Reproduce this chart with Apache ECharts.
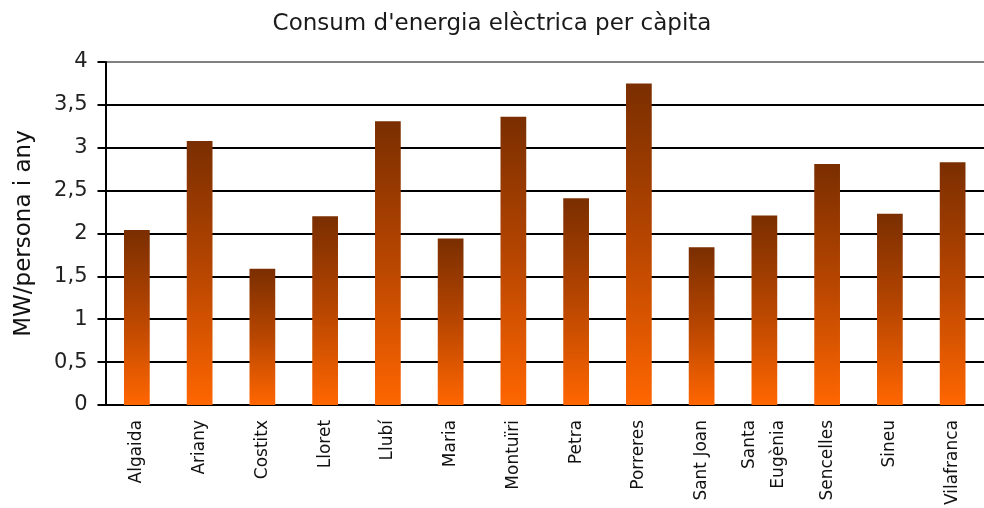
<!DOCTYPE html>
<html><head><meta charset="utf-8">
<script src="https://cdn.jsdelivr.net/npm/echarts@6/dist/echarts.min.js"></script>
<style>html,body{margin:0;padding:0;background:#fff}#c{width:984px;height:508px}</style>
</head><body><div id="c"></div>
<script>
const categories = ['Algaida','Ariany','Costitx','Lloret','Llubí','Maria','Montuïri','Petra','Porreres','Sant Joan','Santa\nEugènia','Sencelles','Sineu','Vilafranca'];
const values = [2.04, 3.08, 1.59, 2.20, 3.31, 1.94, 3.36, 2.41, 3.75, 1.84, 2.21, 2.81, 2.23, 2.83];
const yTicks = [0, 0.5, 1, 1.5, 2, 2.5, 3, 3.5, 4];
const title = "Consum d'energia elèctrica per càpita";
const yName = 'MW/persona i any';

const font = 'DejaVu Sans';
const chart = echarts.init(document.getElementById('c'));
chart.setOption({
  animation: false,
  title: {text: title, left: 'center', top: 8, textStyle: {fontFamily: font, fontSize: 23, fontWeight: 'normal', color: '#1a1a1a'}},
  grid: {left: 105.5, right: -10, top: 62, bottom: 101.5, containLabel: false},
  xAxis: {
    type: 'category', data: categories,
    axisLine: {lineStyle: {color: '#000', width: 2}},
    axisTick: {length: 6, lineStyle: {color: '#000', width: 2}},
    axisLabel: {rotate: 90, margin: 15, fontFamily: font, fontSize: 17, color: '#111', lineHeight: 29, interval: 0}
  },
  yAxis: {
    type: 'value', min: 0, max: 4, interval: 0.5,
    name: yName, nameLocation: 'middle', nameGap: 70, nameRotate: 90,
    nameTextStyle: {fontFamily: font, fontSize: 23, color: '#111'},
    axisLine: {show: true, lineStyle: {color: '#000', width: 2}},
    axisTick: {show: true, length: 8, lineStyle: {color: '#000', width: 2}},
    axisLabel: {margin: 18, fontFamily: font, fontSize: 21, color: '#222',
      formatter: v => String(v).replace('.', ',')},
    splitLine: {lineStyle: {color: ['#000','#000','#000','#000','#000','#000','#000','#000','#808080'], width: 2}}
  },
  series: [{
    type: 'bar', data: values, barCategoryGap: '59%',
    itemStyle: {color: new echarts.graphic.LinearGradient(0, 0, 0, 1, [
      {offset: 0, color: '#7a2e00'}, {offset: 0.5, color: '#b84600'}, {offset: 1, color: '#ff6600'}])}
  }]
});
</script></body></html>
